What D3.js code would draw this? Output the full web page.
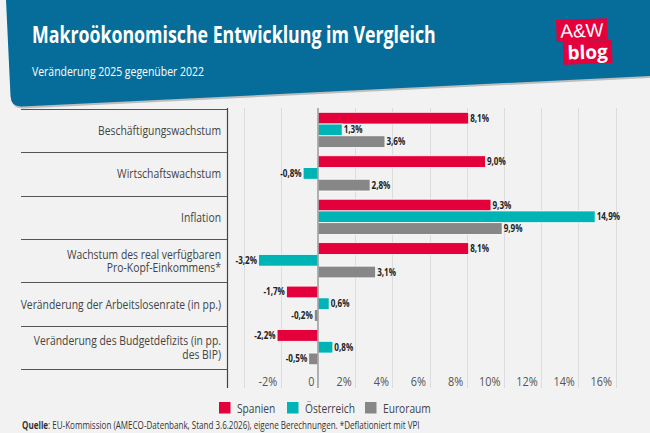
<!DOCTYPE html>
<html lang="de">
<head>
<meta charset="utf-8">
<title>Makroökonomische Entwicklung im Vergleich</title>
<script src="https://cdn.jsdelivr.net/npm/d3@7"></script>
<style>
    body { margin: 0; background: #f2f2f2; }
    svg { display: block; font-family: "Open Sans", "Noto Sans", sans-serif; }
    .cat { fill: #444; font-size: 13px; }
    .tick-label { fill: #555; font-size: 12px; }
    .val { fill: #222; font-size: 10px; font-weight: bold; }
    .legend { fill: #444; font-size: 13px; }
</style>
</head>
<body>
<script>

    // data
    var categories = ["Beschäftigungswachstum", "Wirtschaftswachstum", "Inflation",
        "Wachstum des real verfügbaren\nPro-Kopf-Einkommens*",
        "Veränderung der Arbeitslosenrate (in pp.)",
        "Veränderung des Budgetdefizits (in pp.\ndes BIP)"];
    var series = ["Spanien", "Österreich", "Euroraum"];
    var spanien = [8.1, 9.0, 9.3, 8.1, -1.7, -2.2];
    var oesterreich = [1.3, -0.8, 14.9, -3.2, 0.6, 0.8];
    var euroraum = [3.6, 2.8, 9.9, 3.1, -0.2, -0.5];
    var xTicks = [-2, 0, 2, 4, 6, 8, 10, 12, 14, 16];
    var gridTicks = [-4, -2, 2, 4, 6, 8, 10, 12, 14, 16];
    var colors = ["#e4003b", "#00b4b6", "#878787"];

    var W = 650, H = 433;
    var values = [spanien, oesterreich, euroraum];

    var svg = d3.select("body").append("svg")
        .attr("width", W)
        .attr("height", H);

    svg.append("rect").attr("width", W).attr("height", H).attr("fill", "#f2f2f2");

    // the original uses a narrow font, so texts get squeezed horizontally
    // around their anchor point
    function narrow(node, k) {
        var ax = +node.getAttribute("x");
        node.setAttribute("transform",
            "translate(" + ax + ",0) scale(" + k + ",1) translate(" + (-ax) + ",0)");
    }
    function squeeze(sel, cls, refText, refWidth) {
        var tmp = svg.append("text").attr("class", cls).text(refText);
        var k = refWidth / tmp.node().getComputedTextLength();
        tmp.remove();
        sel.each(function () { narrow(this, k); });
    }
    function fitWidth(sel, w) {
        sel.each(function () { narrow(this, w / this.getComputedTextLength()); });
    }

    // header band with slanted bottom edge
    function headerPath(dx, dy) {
        var p = d3.path();
        p.moveTo(6 + dx, 0 + dy);
        p.lineTo(650 + dx, 0 + dy);
        p.lineTo(650 + dx, 76 + dy);
        p.lineTo(22 + dx, 106.5 + dy);
        p.quadraticCurveTo(11 + dx, 107 + dy, 10.5 + dx, 96 + dy);
        p.closePath();
        return p.toString();
    }
    svg.append("path").attr("d", headerPath(1, 2)).attr("fill", "#9a9a9a").attr("opacity", 0.6);
    svg.append("path").attr("d", headerPath(0, 0)).attr("fill", "#066d9a");

    svg.append("text")
        .attr("x", 32).attr("y", 43)
        .attr("fill", "#fff")
        .attr("font-size", "23px")
        .attr("font-weight", "bold")
        .text("Makroökonomische Entwicklung im Vergleich")
        .call(fitWidth, 404);

    svg.append("text")
        .attr("x", 32).attr("y", 76)
        .attr("fill", "#fff")
        .attr("font-size", "13.5px")
        .text("Veränderung 2025 gegenüber 2022")
        .call(fitWidth, 172);

    // logo
    var logo = svg.append("g").attr("transform", "translate(556,20) rotate(-2)");
    logo.append("rect").attr("x", 0).attr("y", 0).attr("width", 51).attr("height", 22).attr("fill", "#e4003b");
    logo.append("rect").attr("x", 6).attr("y", 22).attr("width", 49).attr("height", 23).attr("fill", "#e4003b");
    logo.append("text").attr("x", 25.5).attr("y", 18).attr("text-anchor", "middle")
        .attr("fill", "#fff").attr("font-family", "Liberation Sans, sans-serif").attr("font-size", "19px")
        .text("A&W");
    logo.append("text").attr("x", 30.5).attr("y", 40).attr("text-anchor", "middle")
        .attr("fill", "#fff").attr("font-family", "Open Sans, sans-serif").attr("font-size", "19px")
        .attr("font-weight", "bold")
        .text("blog");

    // scales
    var x = d3.scaleLinear().domain([0, 16]).range([318, 615.6]);
    var y0 = d3.scaleBand().domain(categories).range([108.6, 369.3]);
    var y1 = d3.scaleBand().domain(series).range([0, y0.bandwidth()]).paddingOuter(0.35).align(0.45);

    // grid
    svg.append("g").selectAll("line")
        .data(gridTicks).enter().append("line")
        .attr("x1", function (d) { return Math.round(x(d)) + 0.5; })
        .attr("x2", function (d) { return Math.round(x(d)) + 0.5; })
        .attr("y1", 108).attr("y2", 388)
        .attr("stroke", "#dcdcdc").attr("stroke-width", 1);

    // category separators and axis line
    svg.append("g").selectAll("line")
        .data(categories.concat(["end"])).enter().append("line")
        .attr("x1", 21).attr("x2", 228)
        .attr("y1", function (d, i) { return Math.round(108.6 + i * y0.step()) + 0.5; })
        .attr("y2", function (d, i) { return Math.round(108.6 + i * y0.step()) + 0.5; })
        .attr("stroke", "#555").attr("stroke-width", 1);
    svg.append("line")
        .attr("x1", 227.5).attr("x2", 227.5).attr("y1", 108).attr("y2", 388)
        .attr("stroke", "#444").attr("stroke-width", 1.2);

    // category labels, one text per line
    var catLines = [];
    categories.forEach(function (c) {
        var lines = c.split("\n");
        var cy = y0(c) + y0.bandwidth() / 2;
        lines.forEach(function (line, k) {
            catLines.push({ text: line, y: cy + (k - (lines.length - 1) / 2) * 13.4 });
        });
    });
    svg.append("g").selectAll("text")
        .data(catLines).enter().append("text")
        .attr("class", "cat")
        .attr("text-anchor", "end")
        .attr("x", 221)
        .attr("y", function (d) { return d.y; })
        .attr("dy", "0.35em")
        .text(function (d) { return d.text; })
        .call(squeeze, "cat", "Beschäftigungswachstum", 123);

    // bars
    var rows = [];
    categories.forEach(function (c, i) {
        series.forEach(function (s, j) {
            rows.push({ cat: c, ser: s, v: values[j][i], color: colors[j] });
        });
    });

    svg.append("g").selectAll("rect")
        .data(rows).enter().append("rect")
        .attr("x", function (d) { return x(Math.min(0, d.v)); })
        .attr("y", function (d) { return y0(d.cat) + y1(d.ser); })
        .attr("width", function (d) { return Math.abs(x(d.v) - x(0)); })
        .attr("height", y1.bandwidth())
        .attr("fill", function (d) { return d.color; })
        .attr("stroke", "#fff").attr("stroke-width", 0.8);

    // zero line
    svg.append("line")
        .attr("x1", x(0)).attr("x2", x(0)).attr("y1", 108).attr("y2", 388)
        .attr("stroke", "#9a9a9a").attr("stroke-width", 1.5);

    var fmt = function (v) { return v.toFixed(1).replace(".", ",") + "%"; };

    svg.append("g").selectAll("text")
        .data(rows).enter().append("text")
        .attr("class", "val")
        .attr("x", function (d) { return d.v >= 0 ? x(d.v) + 1.5 : x(d.v) - 1.5; })
        .attr("y", function (d) { return y0(d.cat) + y1(d.ser) + y1.bandwidth() / 2; })
        .attr("dy", "0.35em")
        .attr("text-anchor", function (d) { return d.v >= 0 ? "start" : "end"; })
        .text(function (d) { return fmt(d.v); })
        .call(squeeze, "val", "14,9%", 23.5);

    // x tick labels
    svg.append("g").selectAll("text")
        .data(xTicks).enter().append("text")
        .attr("class", "tick-label")
        .attr("x", function (d) { return x(d) - 3.5; })
        .attr("y", 382)
        .attr("dy", "0.35em")
        .attr("text-anchor", "end")
        .text(function (d) { return d === 0 ? "0" : d + "%"; })
        .call(squeeze, "tick-label", "16%", 21.5);

    // legend
    var legendX = [219, 287, 365];
    var lg = svg.append("g").selectAll("g")
        .data(series).enter().append("g")
        .attr("transform", function (d, i) { return "translate(" + legendX[i] + ",402)"; });
    lg.append("rect").attr("width", 11.5).attr("height", 11.5)
        .attr("fill", function (d, i) { return colors[i]; });
    lg.append("text").attr("class", "legend")
        .attr("x", 18).attr("y", 6).attr("dy", "0.35em")
        .text(function (d) { return d; })
        .call(squeeze, "legend", "Österreich", 50);

    // source
    var src = svg.append("text")
        .attr("x", 22).attr("y", 429)
        .attr("fill", "#333")
        .attr("font-size", "10.5px");
    src.append("tspan").attr("font-weight", "bold").text("Quelle");
    src.append("tspan").text(": EU-Kommission (AMECO-Datenbank, Stand 3.6.2026), eigene Berechnungen. *Deflationiert mit VPI");
    src.call(fitWidth, 398);

</script>
</body>
</html>
